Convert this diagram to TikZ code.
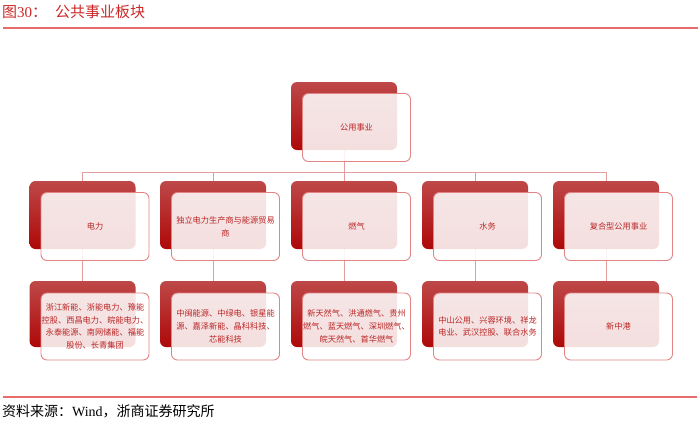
\documentclass[tikz,border=0pt]{standalone}
\usepackage{fontspec}
\setmainfont{Liberation Serif}
\newfontfamily\cjk{Noto Sans CJK SC}
\definecolor{dred}{RGB}{174,8,8}
\definecolor{lred}{RGB}{190,72,72}
\definecolor{txtred}{RGB}{186,38,38}
\definecolor{edgered}{RGB}{226,132,132}
\definecolor{connred}{RGB}{228,158,158}
\definecolor{rulered}{RGB}{232,108,108}
\definecolor{titred}{RGB}{204,40,40}
\pgfdeclarelayer{bg}\pgfsetlayers{bg,main}
\tikzset{
  backbox/.style={rounded corners=6pt, minimum width=106pt, minimum height=68pt,
    top color=lred, bottom color=dred, inner sep=0pt},
  frontbox/.style={rounded corners=6pt, minimum width=108pt, minimum height=68pt,
    draw=edgered, line width=0.9pt, fill=white, fill opacity=0.87, text opacity=1,
    text=txtred, font=\cjk\fontsize{8.2}{12.7}\selectfont, align=center, inner sep=0pt},
  connline/.style={draw=connred, line width=0.8pt},
  ruleline/.style={draw=rulered, line width=1.1pt}
}
\begin{document}
\begin{tikzpicture}[x=1pt,y=-1pt]
\useasboundingbox (0,0) rectangle (700,424);
% title
\node[anchor=west, inner sep=0pt, text=titred, font=\fontsize{15}{15}\selectfont] (tnum) at (2,12) {{\cjk 图}30{\cjk ：}};
\node[anchor=west, inner sep=0pt, text=titred, font=\cjk\fontsize{15}{15}\selectfont] (ttext) at (55,12) {公共事业板块};
\coordinate (r1a) at (3,28); \coordinate (r1b) at (698,28);
\draw[ruleline] (r1a) -- (r1b);
% top unit
\node[backbox] (tb) at (344,116) {};
\node[frontbox] (tf) at (356.5,127.5) {公用事业};
% row 2
\node[backbox] (b1) at (82.5,215) {};
\node[frontbox] (f1) at (95,226.5) {电力};
\node[backbox] (b2) at (213,215) {};
\node[frontbox] (f2) at (225.5,226.5) {独立电力生产商与能源贸易\\商};
\node[backbox] (b3) at (344,215) {};
\node[frontbox] (f3) at (356.5,226.5) {燃气};
\node[backbox] (b4) at (475,215) {};
\node[frontbox] (f4) at (487.5,226.5) {水务};
\node[backbox] (b5) at (606,215) {};
\node[frontbox] (f5) at (618.5,226.5) {复合型公用事业};
% row 3
\node[backbox, minimum height=66pt] (c1) at (82.5,314) {};
\node[frontbox, minimum height=67pt] (g1) at (95,326.5) {浙江新能、浙能电力、豫能\\控股、西昌电力、皖能电力、\\永泰能源、南网储能、福能\\股份、长青集团};
\node[backbox, minimum height=66pt] (c2) at (213,314) {};
\node[frontbox, minimum height=67pt] (g2) at (225.5,326.5) {中闽能源、中绿电、银星能\\源、嘉泽新能、晶科科技、\\芯能科技};
\node[backbox, minimum height=66pt] (c3) at (344,314) {};
\node[frontbox, minimum height=67pt] (g3) at (356.5,326.5) {新天然气、洪通燃气、贵州\\燃气、蓝天燃气、深圳燃气、\\皖天然气、首华燃气};
\node[backbox, minimum height=66pt] (c4) at (475,314) {};
\node[frontbox, minimum height=67pt] (g4) at (487.5,326.5) {中山公用、兴蓉环境、祥龙\\电业、武汉控股、联合水务};
\node[backbox, minimum height=66pt] (c5) at (606,314) {};
\node[frontbox, minimum height=67pt] (g5) at (618.5,326.5) {新中港};
% connectors
\coordinate (hub) at (344,172);
\begin{pgfonlayer}{bg}
\draw[connline] (tb.center) -- (hub);
\draw[connline] (b1.center |- hub) -- (b5.center |- hub);
\foreach \i in {1,...,5} {
  \draw[connline] (b\i.center |- hub) -- (b\i.center);
  \draw[connline] (b\i.center) -- (c\i.center);
}
\end{pgfonlayer}
% source
\coordinate (r2a) at (3,397); \coordinate (r2b) at (697,397);
\draw[ruleline] (r2a) -- (r2b);
\node[anchor=west, inner sep=0pt, font=\fontsize{14}{14}\selectfont] (src) at (2,411) {{\cjk 资料来源：}Wind{\cjk ，浙商证券研究所}};
\end{tikzpicture}
\end{document}
